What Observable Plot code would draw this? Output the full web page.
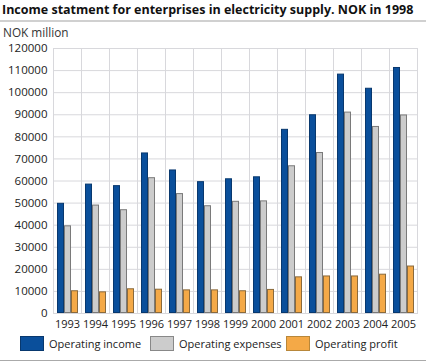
<!DOCTYPE html>
<html>
<head>
<meta charset="utf-8">
<script src="https://cdn.jsdelivr.net/npm/d3@7"></script>
<script src="https://cdn.jsdelivr.net/npm/@observablehq/plot@0.6"></script>
<style>
  body { margin: 0; background: #fff; font-family: "Open Sans", sans-serif; color: #222; }
  #wrap { position: relative; width: 426px; height: 362px; overflow: hidden; }
  #title { position: absolute; left: 2px; top: 1px; font-size: 12.5px; line-height: 17px; font-weight: 700; white-space: nowrap; color: #111; }
  #rule { position: absolute; left: 0; top: 20px; width: 426px; height: 2px; background: #d0d0d0; }
  #unit { position: absolute; left: 3px; top: 25px; font-size: 11.8px; line-height: 15px; color: #333; }
  #chart { position: absolute; left: 0; top: 40px; }
  #legend { position: absolute; left: 0; top: 335px; width: 426px; height: 16px; font-size: 11px; color: #222; }
  .item { position: absolute; top: 0; display: flex; align-items: center; white-space: nowrap; height: 16px; }
  .sw { width: 24px; height: 15px; border: 1px solid #777; margin-right: 5px; box-sizing: border-box; }
  #bottom { position: absolute; left: 0; top: 360px; width: 426px; height: 1px; background: #aaa; }
</style>
</head>
<body>
<div id="wrap">
  <div id="title">Income statment for enterprises in electricity supply. NOK in 1998</div>
  <div id="rule"></div>
  <div id="unit">NOK million</div>
  <div id="chart"></div>
  <div id="legend"></div>
  <div id="bottom"></div>
</div>
<script>
const years = ["1993","1994","1995","1996","1997","1998","1999","2000","2001","2002","2003","2004","2005"];
const seriesNames = ["Operating income","Operating expenses","Operating profit"];
const income   = [49900, 58600, 57900, 72700, 65000, 59700, 61000, 61900, 83400, 90000, 108400, 102000, 111400];
const expenses = [39700, 49100, 47000, 61500, 54300, 48800, 50800, 51000, 66900, 72900, 91200, 84700, 89900];
const profit   = [10300, 9800, 11200, 11000, 10700, 10700, 10300, 10900, 16600, 17000, 17000, 17800, 21500];
const yTicks = [0,10000,20000,30000,40000,50000,60000,70000,80000,90000,100000,110000,120000];
const fills = ["#0a4f9b", "#cccccc", "#f4a947"];
const strokes = ["#08386e", "#7a7a7a", "#8a6a3c"];

const values = [income, expenses, profit];
const data = [];
years.forEach((y, i) => seriesNames.forEach((s, j) => data.push({year: y, series: s, value: values[j][i]})));

const chart = Plot.plot({
  width: 426,
  height: 293,
  marginLeft: 48,
  marginRight: 4,
  marginTop: 8,
  marginBottom: 20,
  style: {fontFamily: "Open Sans, sans-serif", fontSize: "11px", color: "#222", background: "#fff"},
  fx: {domain: years, paddingInner: 0, paddingOuter: 0, label: null, tickSize: 0, tickPadding: 7},
  x: {domain: seriesNames, paddingInner: 0, paddingOuter: 0.41, axis: null},
  y: {domain: [0, 120000], ticks: yTicks, tickFormat: d3.format("d"), label: null, tickSize: 0, tickPadding: 6},
  color: {domain: seriesNames, range: fills},
  marks: [
    Plot.gridY(yTicks, {stroke: "#d8d8dc", strokeOpacity: 1, strokeWidth: 1}),
    Plot.frame({stroke: "#d8d8dc", strokeWidth: 1}),
    Plot.barY(data, {fx: "year", x: "series", y: "value", fill: "series", stroke: d => strokes[seriesNames.indexOf(d.series)], strokeWidth: 1, inset: 0.5})
  ]
});
chart.querySelectorAll("[aria-label='y-axis tick label'] text").forEach(t => t.style.fontSize = "11.5px");
document.getElementById("chart").appendChild(chart);

const legend = document.getElementById("legend");
const legendX = [20, 150, 286];
seriesNames.forEach((s, j) => {
  const it = document.createElement("div");
  it.className = "item";
  it.style.left = legendX[j] + "px";
  const sw = document.createElement("div");
  sw.className = "sw";
  sw.style.background = fills[j];
  sw.style.borderColor = j === 0 ? "#08386e" : (j === 1 ? "#888" : "#b8873a");
  const t = document.createElement("span");
  t.textContent = s;
  it.appendChild(sw);
  it.appendChild(t);
  legend.appendChild(it);
});
</script>
</body>
</html>
